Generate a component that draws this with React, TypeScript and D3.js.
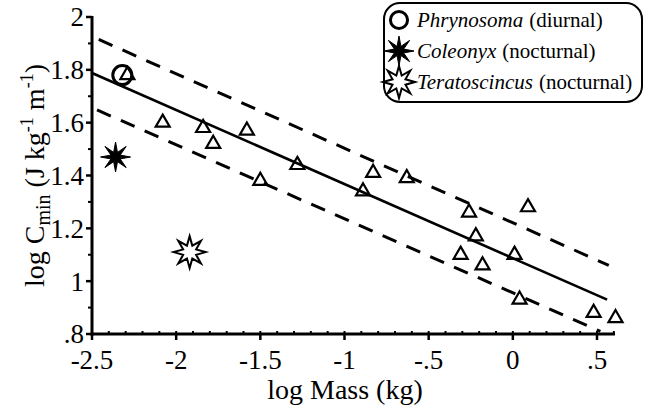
import React from 'react';
import * as d3 from 'd3';

// triangles: [log mass, log Cmin]
const massLog = [-2.29, -2.08, -1.84, -1.78, -1.58, -1.5, -1.28, -0.89, -0.83, -0.63, -0.26, -0.22, -0.31, -0.18, 0.01, 0.09, 0.04, 0.48, 0.61];
const cminLog = [1.78, 1.6, 1.58, 1.52, 1.57, 1.38, 1.44, 1.34, 1.41, 1.39, 1.26, 1.17, 1.1, 1.06, 1.1, 1.28, 0.93, 0.88, 0.86];

const phrynosoma = [-2.32, 1.78];
const coleonyx = [-2.36, 1.47];
const teratoscincus = [-1.92, 1.11];

const fitLine = [[-2.5, 1.788], [0.56, 0.93]];
const upperBand = [[-2.46, 1.915], [0.57, 1.06]];
const lowerBand = [[-2.47, 1.648], [0.52, 0.81]];

const xTicks = [-2.5, -2, -1.5, -1, -0.5, 0, 0.5];
const xTickLabels = ['-2.5', '-2', '-1.5', '-1', '-.5', '0', '.5'];
const yTicks = [0.8, 1, 1.2, 1.4, 1.6, 1.8, 2];
const yTickLabels = ['.8', '1', '1.2', '1.4', '1.6', '1.8', '2'];

const legendItems = [
  { name: 'Phrynosoma', note: '(diurnal)', kind: 'circle' },
  { name: 'Coleonyx', note: '(nocturnal)', kind: 'filled' },
  { name: 'Teratoscincus', note: '(nocturnal)', kind: 'open' },
];

const W = 646;
const H = 406;
const FONT = '"Liberation Serif", "Times New Roman", serif';

const x = d3.scaleLinear().domain([-2.5, 0.5]).range([92, 597]);
const y = d3.scaleLinear().domain([0.8, 2]).range([334, 17]);
const xMax = 0.607;

const starPath = (R: number, r: number, n: number) => {
  const pts = d3.range(n * 2).map(i => [i * Math.PI / n, i % 2 === 0 ? R : r] as [number, number]);
  return d3.lineRadial().curve(d3.curveLinearClosed)(pts) || '';
};

const triPath = d3.symbol().type(d3.symbolTriangle).size(85)() || '';
const line = d3.line<number[]>().x(d => x(d[0])).y(d => y(d[1]));

const Marker = ({ kind, cx, cy, s = 1 }: { kind: string; cx: number; cy: number; s?: number }) => {
  if (kind === 'circle')
    return <circle cx={cx} cy={cy} r={9.5 * s} fill="none" stroke="#000" strokeWidth={3} />;
  if (kind === 'filled')
    return <path d={starPath(15 * s, 5 * s, 8)} transform={`translate(${cx},${cy})`} fill="#000" stroke="#000" strokeWidth={1} />;
  return <path d={starPath(16 * s, 7 * s, 8)} transform={`translate(${cx},${cy})`} fill="#fff" stroke="#000" strokeWidth={2} strokeLinejoin="miter" />;
};

export default function App() {
  const xMinor = d3.range(-2.5, xMax, 0.1);
  const yMinor = d3.range(0.9, 2, 0.2);
  return (
    <svg width={W} height={H} style={{ position: 'absolute', left: 0, top: 0, background: '#fff' }} fontFamily={FONT}>
      {/* bands and fit */}
      <path d={line(upperBand) || ''} stroke="#000" strokeWidth={3} strokeDasharray="15 11" fill="none" />
      <path d={line(lowerBand) || ''} stroke="#000" strokeWidth={3} strokeDasharray="15 11" fill="none" />
      <path d={line(fitLine) || ''} stroke="#000" strokeWidth={2.6} fill="none" />

      {/* triangles */}
      {massLog.map((m, i) => (
        <path key={i} d={triPath} transform={`translate(${x(m)},${y(cminLog[i])})`} fill="none" stroke="#000" strokeWidth={2.2} />
      ))}

      <Marker kind="circle" cx={x(phrynosoma[0])} cy={y(phrynosoma[1])} />
      <Marker kind="filled" cx={x(coleonyx[0])} cy={y(coleonyx[1])} />
      <Marker kind="open" cx={x(teratoscincus[0])} cy={y(teratoscincus[1])} />

      {/* axes */}
      <line x1={92} x2={92} y1={y(2) - 1} y2={y(0.8) + 1.5} stroke="#000" strokeWidth={3} />
      <line x1={90.5} x2={x(xMax)} y1={y(0.8)} y2={y(0.8)} stroke="#000" strokeWidth={3} />
      {yTicks.map((t, i) => (
        <g key={t}>
          <line x1={86} x2={92} y1={y(t)} y2={y(t)} stroke="#000" strokeWidth={2.5} />
          <text x={84} y={y(t)} dy="0.35em" textAnchor="end" fontSize={27}>{yTickLabels[i]}</text>
        </g>
      ))}
      {yMinor.map(t => (
        <line key={t} x1={88} x2={92} y1={y(t)} y2={y(t)} stroke="#000" strokeWidth={2} />
      ))}
      {xTicks.map((t, i) => (
        <g key={t}>
          <line x1={x(t)} x2={x(t)} y1={y(0.8)} y2={y(0.8) + 6} stroke="#000" strokeWidth={2.5} />
          <text x={x(t)} y={369} textAnchor="middle" fontSize={27}>{xTickLabels[i]}</text>
        </g>
      ))}
      {xMinor.map(t => (
        <line key={t} x1={x(t)} x2={x(t)} y1={y(0.8) - 3} y2={y(0.8)} stroke="#000" strokeWidth={2} />
      ))}

      <text x={345} y={399} textAnchor="middle" fontSize={28}>log Mass (kg)</text>
      <text transform={`translate(44,${(y(2) + y(0.8)) / 2}) rotate(-90)`} textAnchor="middle" fontSize={28}>
        log C<tspan fontSize={20} dy={6}>min</tspan>
        <tspan dy={-6}> (J kg</tspan>
        <tspan fontSize={18} dy={-11}>-1</tspan>
        <tspan dy={11}> m</tspan>
        <tspan fontSize={18} dy={-11}>-1</tspan>
        <tspan dy={11}>)</tspan>
      </text>

      {/* legend */}
      <rect x={384} y={3} width={258} height={99} rx={16} fill="#fff" stroke="#000" strokeWidth={2} />
      {legendItems.map((d, i) => (
        <g key={d.name} transform={`translate(0,${20 + i * 31})`}>
          <Marker kind={d.kind} cx={399} cy={0} s={d.kind === 'circle' ? 0.9 : 1} />
          <text x={417} y={0} dy="0.35em" fontSize={21}>
            <tspan fontStyle="italic">{d.name}</tspan>
            <tspan dx={6}>{d.note}</tspan>
          </text>
        </g>
      ))}
    </svg>
  );
}
